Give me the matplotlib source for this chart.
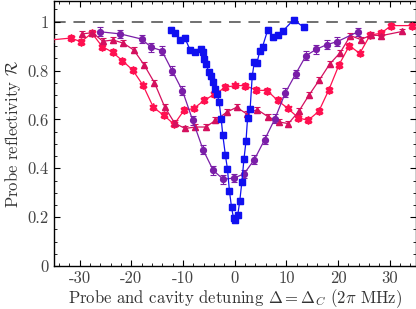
import matplotlib
matplotlib.use('Agg')
import matplotlib.pyplot as plt
import numpy as np

plt.rcParams['font.family'] = 'serif'
plt.rcParams['font.serif'] = ['cmr10']
plt.rcParams['mathtext.fontset'] = 'cm'

# blue squares: narrow dip
x_blue = [-12.4, -11.6, -10.5, -9.6, -8.6, -7.6, -6.6, -6.2, -5.9, -5.5, -5.0, -4.6,
          -4.2, -3.7, -3.4, -3.0, -2.6, -2.3, -1.8, -1.4, -1.0, -0.6, -0.2, 0.15,
          0.6, 1.0, 1.4, 1.8, 2.2, 2.5, 3.0, 3.4, 3.8, 4.3, 4.9, 5.4, 6.4, 7.4,
          8.3, 9.4, 11.4, 13.4]
y_blue = [0.966, 0.955, 0.927, 0.932, 0.884, 0.878, 0.889, 0.875, 0.848, 0.827, 0.793, 0.776,
          0.755, 0.725, 0.705, 0.671, 0.603, 0.538, 0.456, 0.399, 0.307, 0.24, 0.195, 0.188,
          0.208, 0.267, 0.344, 0.437, 0.511, 0.605, 0.643, 0.776, 0.834, 0.83, 0.882, 0.898,
          0.966, 0.939, 0.944, 0.963, 1.008, 0.977]
err_blue = 0.012

# purple circles
x_purple = [-26.1, -22.1, -18.0, -16.1, -14.1, -12.1, -10.1, -8.1, -6.1, -4.15, -2.2,
            -0.15, 1.8, 3.8, 5.8, 7.8, 9.8, 11.8, 13.8, 15.8, 17.8, 19.8, 23.8]
y_purple = [0.959, 0.950, 0.929, 0.895, 0.882, 0.800, 0.718, 0.596, 0.476, 0.392, 0.355,
            0.360, 0.377, 0.435, 0.517, 0.603, 0.709, 0.786, 0.861, 0.887, 0.906, 0.918, 0.958]
err_purple = 0.018

# red stars: split dip, high centre
x_star = [-35.7, -31.7, -29.7, -27.6, -25.6, -23.6, -21.7, -19.7, -17.7, -15.7, -13.7,
          -11.7, -9.8, -7.9, -5.9, -3.9, -1.8, 0.15, 2.1, 4.2, 6.3, 8.3, 10.3, 12.3,
          14.2, 16.3, 18.2, 20.2, 22.2, 24.2, 26.2, 28.3, 30.3, 34.3]
y_star = [0.925, 0.933, 0.918, 0.953, 0.898, 0.875, 0.840, 0.802, 0.739, 0.649, 0.617,
          0.580, 0.637, 0.645, 0.678, 0.703, 0.731, 0.739, 0.738, 0.720, 0.718, 0.678, 0.645, 0.607,
          0.596, 0.634, 0.720, 0.824, 0.902, 0.870, 0.945, 0.953, 0.984, 0.984]
err_star = 0.012

# crimson triangles: split dip, lower centre
x_tri = [-29.5, -27.5, -25.5, -23.5, -21.5, -19.5, -17.5, -15.5, -13.5, -11.6, -9.6,
         -7.6, -5.6, -3.7, -1.5, 0.4, 2.3, 4.4, 6.4, 8.5, 10.4, 12.4, 14.4, 16.4,
         18.4, 20.4, 22.4, 24.4, 26.4, 28.4, 32.4]
y_tri = [0.950, 0.955, 0.920, 0.925, 0.912, 0.884, 0.823, 0.750, 0.650, 0.585, 0.563,
         0.569, 0.569, 0.596, 0.630, 0.650, 0.623, 0.640, 0.612, 0.590, 0.583, 0.633, 0.700, 0.762,
         0.827, 0.873, 0.943, 0.927, 0.945, 0.943, 0.960]
err_tri = 0.012

xticks = [-30, -20, -10, 0, 10, 20, 30]
xticklabels = ['-30', '-20', '-10', '0', '10', '20', '30']
yticks = [0, 0.2, 0.4, 0.6, 0.8, 1.0]
yticklabels = ['0', '0.2', '0.4', '0.6', '0.8', '1']

fig = plt.figure(figsize=(4.16, 3.09), dpi=100)
ax = fig.add_axes([0.129, 0.139, 0.870, 0.858])

ax.axhline(1.0, color='#707070', lw=1.4, dashes=(6, 4), zorder=1)

star = (6, 1, 0)
series = [
    (x_star, y_star, err_star, '#ff1050', star, 5.8),
    (x_tri, y_tri, err_tri, '#d4105e', '^', 4.8),
    (x_purple, y_purple, err_purple, '#7a1ea8', 'o', 4.2),
    (x_blue, y_blue, err_blue, '#1010f0', 's', 3.7),
]
for xs, ys, e, c, m, ms in series:
    ax.errorbar(xs, ys, yerr=e, fmt='-', marker=m, ms=ms, color=c, mec=c,
                lw=0.9, elinewidth=0.8, capsize=2, capthick=0.8, zorder=3)

ax.set_xlim(-35, 35)
ax.set_ylim(0, 1.085)
ax.set_xticks(xticks)
ax.set_xticklabels(xticklabels)
ax.set_yticks(yticks)
ax.set_yticklabels(yticklabels)
ax.set_xticks(np.arange(-34, 35, 2), minor=True)
ax.set_yticks(np.arange(0, 1.08, 0.05), minor=True)
ax.tick_params(which='both', direction='in', top=True, right=True, labelsize=12, labelcolor='#444444')
ax.tick_params(which='major', length=4, width=0.8)
ax.tick_params(which='minor', length=2, width=0.6)
for sp in ax.spines.values():
    sp.set_linewidth(1.0)

ax.set_xlabel(r'Probe and cavity detuning $\Delta = \Delta_C$ $(2\pi$ MHz$)$', fontsize=12,
              labelpad=1, color='#333333')
ax.set_ylabel(r'Probe reflectivity $\mathcal{R}$', fontsize=12, labelpad=3, color='#333333')

fig.savefig('out.png', dpi=100)
